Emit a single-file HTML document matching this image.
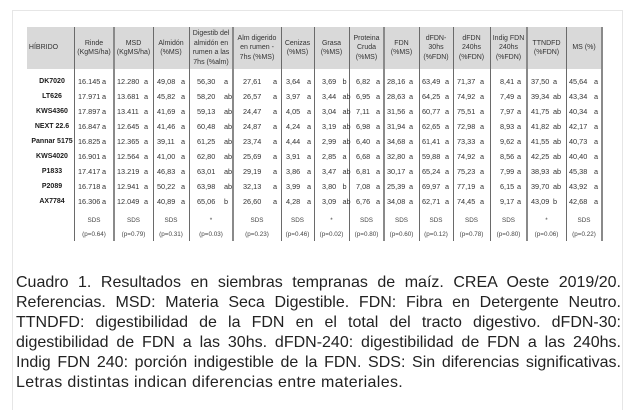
<!DOCTYPE html>
<html><head><meta charset="utf-8">
<style>
*{box-sizing:border-box}
body{margin:0;width:632px;height:402px;background:#fff;position:relative;overflow:hidden;font-family:"Liberation Sans",Arial,sans-serif}
#box{position:absolute;left:12px;top:10px;width:611px;height:400px;border:1px solid #e6e6e6;border-bottom:none}
#hdrbg{position:absolute;left:27px;top:27px;width:575px;height:42px;background:#d9d9d9}
.vl{position:absolute;top:27px;height:214px;width:1px;background:#6a6a6a}
.vl.t{width:2px;background:#8a8a8a}
.hrow{position:absolute;left:27px;top:27px;height:42px;display:flex}
.hrow>div{flex:none;display:flex;align-items:center;justify-content:center;text-align:center;font-size:7px;line-height:9.5px;color:#333;white-space:nowrap;height:42px}
.rows{position:absolute;left:27px;top:73.5px}
.r{display:flex;height:15px;line-height:15px;font-size:7.3px;color:#333;white-space:nowrap}
.r>div{position:relative;flex:none;height:15px}
.r i{font-style:normal;position:absolute;top:0}
.r b{font-weight:normal;position:absolute;top:0}
.r .n{font-weight:bold;text-align:center;color:#1a1a1a;font-size:7px;padding-left:3px}
.s{position:absolute;left:27px;top:214px}
.sr{display:flex;height:14px;line-height:14px;font-size:6.3px;color:#444;white-space:nowrap}
.sr>div{flex:none;text-align:center}
.r>div:nth-child(1),.hrow>div:nth-child(1),.sr>div:nth-child(1){width:47px}
.r>div:nth-child(2),.hrow>div:nth-child(2),.sr>div:nth-child(2){width:40px}
.r>div:nth-child(3),.hrow>div:nth-child(3),.sr>div:nth-child(3){width:39px}
.r>div:nth-child(4),.hrow>div:nth-child(4),.sr>div:nth-child(4){width:36px}
.r>div:nth-child(5),.hrow>div:nth-child(5),.sr>div:nth-child(5){width:44px}
.r>div:nth-child(6),.hrow>div:nth-child(6),.sr>div:nth-child(6){width:48px}
.r>div:nth-child(7),.hrow>div:nth-child(7),.sr>div:nth-child(7){width:33px}
.r>div:nth-child(8),.hrow>div:nth-child(8),.sr>div:nth-child(8){width:35px}
.r>div:nth-child(9),.hrow>div:nth-child(9),.sr>div:nth-child(9){width:35px}
.r>div:nth-child(10),.hrow>div:nth-child(10),.sr>div:nth-child(10){width:35px}
.r>div:nth-child(11),.hrow>div:nth-child(11),.sr>div:nth-child(11){width:34px}
.r>div:nth-child(12),.hrow>div:nth-child(12),.sr>div:nth-child(12){width:37px}
.r>div:nth-child(13),.hrow>div:nth-child(13),.sr>div:nth-child(13){width:37px}
.r>div:nth-child(14),.hrow>div:nth-child(14),.sr>div:nth-child(14){width:39px}
.r>div:nth-child(15),.hrow>div:nth-child(15),.sr>div:nth-child(15){width:36px}
.r>div:nth-child(2) i{left:4px}.r>div:nth-child(2) b{left:28px}
.r>div:nth-child(3) i{left:3px}.r>div:nth-child(3) b{left:30px}
.r>div:nth-child(4) i{left:4px}.r>div:nth-child(4) b{left:28px}
.r>div:nth-child(5) i{left:8px}.r>div:nth-child(5) b{left:35px}
.r>div:nth-child(6) i{left:10px}.r>div:nth-child(6) b{left:40px}
.r>div:nth-child(7) i{left:5px}.r>div:nth-child(7) b{left:26px}
.r>div:nth-child(8) i{left:8px}.r>div:nth-child(8) b{left:28.5px}
.r>div:nth-child(9) i{left:7px}.r>div:nth-child(9) b{left:27px}
.r>div:nth-child(10) i{left:3px}.r>div:nth-child(10) b{left:25px}
.r>div:nth-child(11) i{left:3px}.r>div:nth-child(11) b{left:26px}
.r>div:nth-child(12) i{left:4px}.r>div:nth-child(12) b{left:27px}
.r>div:nth-child(13) i{left:10px}.r>div:nth-child(13) b{left:27px}
.r>div:nth-child(14) i{left:4px}.r>div:nth-child(14) b{left:26px}
.r>div:nth-child(15) i{left:3px}.r>div:nth-child(15) b{left:28px}
#cap{position:absolute;left:16px;top:273px;width:605px;font-size:16px;line-height:20px;color:#222}
#cap div{text-align:justify;text-align-last:justify;height:20px}
#cap div.last{text-align:left;text-align-last:left;letter-spacing:0.35px}
</style></head>
<body>
<div id="box"></div>
<div id="hdrbg"></div>

<div class="hrow">
<div style="padding-right:14px">HÍBRIDO</div>
<div>Rinde<br>(KgMS/ha)</div>
<div>MSD<br>(KgMS/ha)</div>
<div>Almidón<br>(%MS)</div>
<div>Digestib del<br>almidón en<br>rumen a las<br>7hs (%alm)</div>
<div>Alm digerido<br>en rumen -<br>7hs (%MS)</div>
<div>Cenizas<br>(%MS)</div>
<div>Grasa<br>(%MS)</div>
<div>Proteina<br>Cruda<br>(%MS)</div>
<div>FDN<br>(%MS)</div>
<div>dFDN-<br>30hs<br>(%FDN)</div>
<div>dFDN<br>240hs<br>(%FDN)</div>
<div>Indig FDN<br>240hs<br>(%FDN)</div>
<div>TTNDFD<br>(%FDN)</div>
<div>MS (%)</div>
</div>

<div class="vl" style="left:74px"></div>
<div class="vl t" style="left:113px"></div>
<div class="vl" style="left:153px"></div>
<div class="vl" style="left:189px"></div>
<div class="vl t" style="left:232px"></div>
<div class="vl" style="left:281px"></div>
<div class="vl" style="left:314px"></div>
<div class="vl" style="left:349px"></div>
<div class="vl t" style="left:383px"></div>
<div class="vl" style="left:419px"></div>
<div class="vl" style="left:453px"></div>
<div class="vl" style="left:490px"></div>
<div class="vl t" style="left:526px"></div>
<div class="vl" style="left:566px"></div>
<div class="vl t" style="left:601px"></div>

<div class="rows">
<div class="r"><div class="n">DK7020</div><div><i>16.145</i><b>a</b></div><div><i>12.280</i><b>a</b></div><div><i>49,08</i><b>a</b></div><div><i>56,30</i><b>a</b></div><div><i>27,61</i><b>a</b></div><div><i>3,64</i><b>a</b></div><div><i>3,69</i><b>b</b></div><div><i>6,82</i><b>a</b></div><div><i>28,16</i><b>a</b></div><div><i>63,49</i><b>a</b></div><div><i>71,37</i><b>a</b></div><div><i>8,41</i><b>a</b></div><div><i>37,50</i><b>a</b></div><div><i>45,64</i><b>a</b></div></div>
<div class="r"><div class="n">LT626</div><div><i>17.971</i><b>a</b></div><div><i>13.681</i><b>a</b></div><div><i>45,82</i><b>a</b></div><div><i>58,20</i><b>ab</b></div><div><i>26,57</i><b>a</b></div><div><i>3,97</i><b>a</b></div><div><i>3,44</i><b>ab</b></div><div><i>6,95</i><b>a</b></div><div><i>28,63</i><b>a</b></div><div><i>64,25</i><b>a</b></div><div><i>74,92</i><b>a</b></div><div><i>7,49</i><b>a</b></div><div><i>39,34</i><b>ab</b></div><div><i>43,34</i><b>a</b></div></div>
<div class="r"><div class="n">KWS4360</div><div><i>17.897</i><b>a</b></div><div><i>13.411</i><b>a</b></div><div><i>41,69</i><b>a</b></div><div><i>59,13</i><b>ab</b></div><div><i>24,47</i><b>a</b></div><div><i>4,05</i><b>a</b></div><div><i>3,04</i><b>ab</b></div><div><i>7,11</i><b>a</b></div><div><i>31,56</i><b>a</b></div><div><i>60,77</i><b>a</b></div><div><i>75,51</i><b>a</b></div><div><i>7,97</i><b>a</b></div><div><i>41,75</i><b>ab</b></div><div><i>40,34</i><b>a</b></div></div>
<div class="r"><div class="n">NEXT 22.6</div><div><i>16.847</i><b>a</b></div><div><i>12.645</i><b>a</b></div><div><i>41,46</i><b>a</b></div><div><i>60,48</i><b>ab</b></div><div><i>24,87</i><b>a</b></div><div><i>4,24</i><b>a</b></div><div><i>3,19</i><b>ab</b></div><div><i>6,98</i><b>a</b></div><div><i>31,94</i><b>a</b></div><div><i>62,65</i><b>a</b></div><div><i>72,98</i><b>a</b></div><div><i>8,93</i><b>a</b></div><div><i>41,82</i><b>ab</b></div><div><i>42,17</i><b>a</b></div></div>
<div class="r"><div class="n">Pannar 5175</div><div><i>16.825</i><b>a</b></div><div><i>12.365</i><b>a</b></div><div><i>39,11</i><b>a</b></div><div><i>61,25</i><b>ab</b></div><div><i>23,74</i><b>a</b></div><div><i>4,44</i><b>a</b></div><div><i>2,99</i><b>ab</b></div><div><i>6,40</i><b>a</b></div><div><i>34,68</i><b>a</b></div><div><i>61,41</i><b>a</b></div><div><i>73,33</i><b>a</b></div><div><i>9,62</i><b>a</b></div><div><i>41,55</i><b>ab</b></div><div><i>40,73</i><b>a</b></div></div>
<div class="r"><div class="n">KWS4020</div><div><i>16.901</i><b>a</b></div><div><i>12.564</i><b>a</b></div><div><i>41,00</i><b>a</b></div><div><i>62,80</i><b>ab</b></div><div><i>25,69</i><b>a</b></div><div><i>3,91</i><b>a</b></div><div><i>2,85</i><b>a</b></div><div><i>6,68</i><b>a</b></div><div><i>32,80</i><b>a</b></div><div><i>59,88</i><b>a</b></div><div><i>74,92</i><b>a</b></div><div><i>8,56</i><b>a</b></div><div><i>42,25</i><b>ab</b></div><div><i>40,40</i><b>a</b></div></div>
<div class="r"><div class="n">P1833</div><div><i>17.417</i><b>a</b></div><div><i>13.219</i><b>a</b></div><div><i>46,83</i><b>a</b></div><div><i>63,01</i><b>ab</b></div><div><i>29,19</i><b>a</b></div><div><i>3,86</i><b>a</b></div><div><i>3,47</i><b>ab</b></div><div><i>6,81</i><b>a</b></div><div><i>30,17</i><b>a</b></div><div><i>65,24</i><b>a</b></div><div><i>75,23</i><b>a</b></div><div><i>7,99</i><b>a</b></div><div><i>38,93</i><b>ab</b></div><div><i>45,38</i><b>a</b></div></div>
<div class="r"><div class="n">P2089</div><div><i>16.718</i><b>a</b></div><div><i>12.941</i><b>a</b></div><div><i>50,22</i><b>a</b></div><div><i>63,98</i><b>ab</b></div><div><i>32,13</i><b>a</b></div><div><i>3,99</i><b>a</b></div><div><i>3,80</i><b>b</b></div><div><i>7,08</i><b>a</b></div><div><i>25,39</i><b>a</b></div><div><i>69,97</i><b>a</b></div><div><i>77,19</i><b>a</b></div><div><i>6,15</i><b>a</b></div><div><i>39,70</i><b>ab</b></div><div><i>43,92</i><b>a</b></div></div>
<div class="r"><div class="n">AX7784</div><div><i>16.306</i><b>a</b></div><div><i>12.049</i><b>a</b></div><div><i>40,89</i><b>a</b></div><div><i>65,06</i><b>b</b></div><div><i>26,60</i><b>a</b></div><div><i>4,28</i><b>a</b></div><div><i>3,09</i><b>ab</b></div><div><i>6,76</i><b>a</b></div><div><i>34,08</i><b>a</b></div><div><i>62,71</i><b>a</b></div><div><i>74,45</i><b>a</b></div><div><i>9,17</i><b>a</b></div><div><i>43,09</i><b>b</b></div><div><i>42,68</i><b>a</b></div></div>
</div>

<div class="s">
<div class="sr"><div></div><div>SDS</div><div>SDS</div><div>SDS</div><div>*</div><div>SDS</div><div>SDS</div><div>*</div><div>SDS</div><div>SDS</div><div>SDS</div><div>SDS</div><div>SDS</div><div>*</div><div>SDS</div></div>
<div class="sr"><div></div><div>(p=0.64)</div><div>(p=0.79)</div><div>(p=0.31)</div><div>(p=0.03)</div><div>(p=0.23)</div><div>(p=0.46)</div><div>(p=0.02)</div><div>(p=0.80)</div><div>(p=0.60)</div><div>(p=0.12)</div><div>(p=0.78)</div><div>(p=0.80)</div><div>(p=0.06)</div><div>(p=0.22)</div></div>
</div>

<div id="cap">
<div>Cuadro 1. Resultados en siembras tempranas de maíz. CREA Oeste 2019/20.</div>
<div>Referencias. MSD: Materia Seca Digestible. FDN: Fibra en Detergente Neutro.</div>
<div>TTNDFD: digestibilidad de la FDN en el total del tracto digestivo. dFDN-30:</div>
<div>digestibilidad de FDN a las 30hs. dFDN-240: digestibilidad de FDN a las 240hs.</div>
<div>Indig FDN 240: porción indigestible de la FDN. SDS: Sin diferencias significativas.</div>
<div class="last">Letras distintas indican diferencias entre materiales.</div>
</div>
</body></html>
